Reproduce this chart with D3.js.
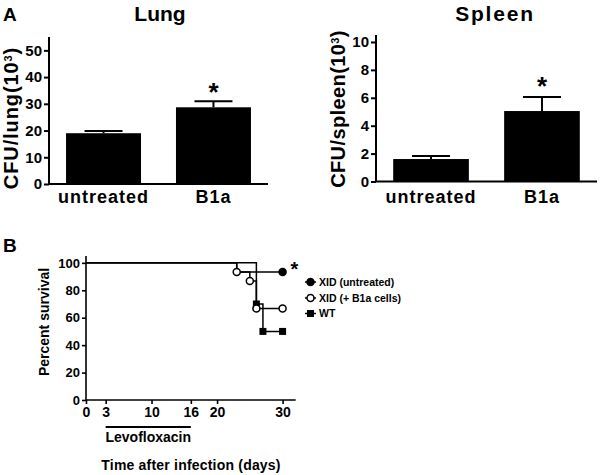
<!DOCTYPE html>
<meta charset="utf-8">
<style>
  body { margin: 0; padding: 0; background: white; }
  svg { background: white; font-family: "Liberation Sans", Arial, sans-serif; font-weight: bold; }
</style>
<script src="https://d3js.org/d3.v7.min.js"></script>
<svg id="vis" width="600" height="475"></svg>
<script>

// ---- data, panel A
var groups = ["untreated", "B1a"];
var lungMean = [19.0, 28.7];
var lungErr = [0.8, 2.3];
var spleenMean = [1.61, 5.05];
var spleenErr = [0.22, 1.0];
var lungTicks = [0, 10, 20, 30, 40, 50];
var spleenTicks = [0, 2, 4, 6, 8, 10];

// ---- data, panel B (Kaplan-Meier steps)
var seriesNames = ["XID (untreated)", "XID (+ B1a cells)", "WT"];
var untreatedDays = [0, 23, 30];
var untreatedSurv = [100, 93.3, 93.3];
var b1aDays = [0, 23, 25, 26, 30];
var b1aSurv = [100, 93.3, 86.7, 66.7, 66.7];
var wtDays = [0, 26, 27, 30];
var wtSurv = [100, 70, 50, 50];
var dayTicks = [0, 3, 10, 16, 20, 30];
var survTicks = [0, 20, 40, 60, 80, 100];
var treatStart = 3, treatEnd = 16;

var svg = d3.select("#vis");

svg.append("text").attr("x", 3).attr("y", 21).attr("font-size", 19).text("A");
svg.append("text").attr("x", 3).attr("y", 252).attr("font-size", 19).text("B");

function barPanel(opts) {
  var g = svg.append("g");
  var x = d3.scaleBand().domain(groups)
    .range([opts.left, opts.right]).paddingInner(0.318).paddingOuter(0.155);
  var y = d3.scaleLinear().domain([0, opts.ymax]).range([opts.bottom, opts.top]);

  g.selectAll("rect.bar").data(groups).enter().append("rect")
    .attr("x", d => x(d)).attr("width", x.bandwidth())
    .attr("y", (d, i) => y(opts.mean[i]))
    .attr("height", (d, i) => y(0) - y(opts.mean[i]))
    .attr("fill", "#000");

  // error bars (upper only)
  groups.forEach(function(d, i) {
    var cx = x(d) + x.bandwidth() / 2;
    var yt = y(opts.mean[i] + opts.err[i]);
    g.append("line").attr("x1", cx).attr("x2", cx)
      .attr("y1", y(opts.mean[i])).attr("y2", yt)
      .attr("stroke", "#000").attr("stroke-width", 2);
    g.append("line").attr("x1", cx - 19).attr("x2", cx + 19)
      .attr("y1", yt).attr("y2", yt)
      .attr("stroke", "#000").attr("stroke-width", 2);
  });

  var yAxis = g.append("g").attr("transform", "translate(" + opts.left + ",0)")
    .call(d3.axisLeft(y).tickValues(opts.ticks).tickSize(5).tickPadding(2));
  yAxis.select(".domain").attr("d", "M0," + y(0) + "V" + opts.top).attr("stroke-width", 2);
  yAxis.selectAll(".tick line").attr("stroke-width", 2);
  yAxis.selectAll("text").attr("font-size", 15).attr("font-family", null).attr("fill", "#000");

  g.append("line").attr("x1", opts.left - 1).attr("x2", opts.right)
    .attr("y1", y(0)).attr("y2", y(0)).attr("stroke", "#000").attr("stroke-width", 2);

  g.selectAll("text.xl").data(groups).enter().append("text")
    .attr("x", d => x(d) + x.bandwidth() / 2).attr("y", 203)
    .attr("text-anchor", "middle").attr("font-size", 18).attr("letter-spacing", 1)
    .text(d => d);

  // asterisk over B1a
  g.append("text").attr("x", x("B1a") + x.bandwidth() / 2).attr("y", opts.starY)
    .attr("text-anchor", "middle").attr("font-size", 26).text("*");

  g.append("text").attr("x", opts.titleX).attr("y", 21)
    .attr("text-anchor", "middle").attr("font-size", 21).attr("letter-spacing", opts.titleSpacing)
    .text(opts.title);

  var yl = g.append("text")
    .attr("transform", "translate(" + opts.labelX + "," + opts.labelY + ") rotate(-90)")
    .attr("text-anchor", "middle").attr("font-size", 20).attr("letter-spacing", opts.labelSpacing);
  yl.append("tspan").text(opts.label + "(10");
  yl.append("tspan").attr("font-size", 11).attr("dy", -6).text("3");
  yl.append("tspan").attr("dy", 6).text(")");
}

barPanel({ left: 49, right: 268, top: 37, bottom: 184, ymax: 55,
  mean: lungMean, err: lungErr, ticks: lungTicks, starY: 101,
  title: "Lung", titleX: 160, titleSpacing: 0,
  label: "CFU/lung", labelX: 18, labelY: 118, labelSpacing: 0.9 });

barPanel({ left: 376, right: 597, top: 35, bottom: 181.5, ymax: 10.5,
  mean: spleenMean, err: spleenErr, ticks: spleenTicks, starY: 95,
  title: "Spleen", titleX: 495, titleSpacing: 1.8,
  label: "CFU/spleen", labelX: 345, labelY: 109, labelSpacing: 0.4 });

// ---- panel B
var x = d3.scaleLinear().domain([0, 32]).range([86, 295.7]);
var y = d3.scaleLinear().domain([0, 105]).range([400, 256]);
var gb = svg.append("g");

var xAx = gb.append("g").attr("transform", "translate(0,400)")
  .call(d3.axisBottom(x).tickValues(dayTicks).tickSize(4).tickPadding(3));
var yAx = gb.append("g").attr("transform", "translate(86,0)")
  .call(d3.axisLeft(y).tickValues(survTicks).tickSize(4).tickPadding(2));
[xAx, yAx].forEach(function(a) {
  a.select(".domain").attr("stroke-width", 1.6);
  a.selectAll(".tick line").attr("stroke-width", 1.6);
  a.selectAll("text").attr("font-family", null).attr("fill", "#000");
});
xAx.select(".domain").attr("d", "M" + x(0) + ",0H" + x(32));
yAx.select(".domain").attr("d", "M0," + y(0) + "V" + y(105));
xAx.selectAll("text").attr("font-size", 14);
yAx.selectAll("text").attr("font-size", 13);

var line = d3.line().x(d => x(d[0])).y(d => y(d[1])).curve(d3.curveStepAfter);
function zip(a, b) { return a.map((d, i) => [d, b[i]]); }

var curves = [
  { pts: zip(untreatedDays, untreatedSurv), shape: "circle", open: false, marks: [2] },
  { pts: zip(b1aDays, b1aSurv), shape: "circle", open: true, marks: [1, 2, 3, 4] },
  { pts: zip(wtDays, wtSurv), shape: "square", open: false, marks: [1, 2, 3] }
];

curves.forEach(function(c) {
  gb.append("path").attr("d", line(c.pts)).attr("fill", "none")
    .attr("stroke", "#000").attr("stroke-width", 1.5);
});

function marker(g, shape, open, cx, cy) {
  if (shape === "circle") {
    g.append("circle").attr("cx", cx).attr("cy", cy).attr("r", 3.5)
      .attr("fill", open ? "#fff" : "#000").attr("stroke", "#000").attr("stroke-width", 1.5);
  } else {
    g.append("rect").attr("x", cx - 3.5).attr("y", cy - 3.5).attr("width", 7).attr("height", 7)
      .attr("fill", "#000");
  }
}

// draw filled/square markers first, open circles on top
[2, 0, 1].forEach(function(k) {
  var c = curves[k];
  c.marks.forEach(function(i) {
    marker(gb, c.shape, c.open, x(c.pts[i][0]), y(c.pts[i][1]));
  });
});

gb.append("text").attr("x", x(30) + 8).attr("y", y(93.3) + 4).attr("font-size", 20).text("*");

// legend
var legY = [282, 298, 313.5];
seriesNames.forEach(function(n, i) {
  var c = curves[i];
  gb.append("line").attr("x1", 305).attr("x2", 316).attr("y1", legY[i]).attr("y2", legY[i])
    .attr("stroke", "#000").attr("stroke-width", 1.5);
  marker(gb, c.shape, c.open, 310.5, legY[i]);
  gb.append("text").attr("x", 319).attr("y", legY[i] + 3.8).attr("font-size", 10.5).text(n);
});

// treatment period
gb.append("line").attr("x1", x(treatStart)).attr("x2", x(treatEnd)).attr("y1", 427).attr("y2", 427)
  .attr("stroke", "#000").attr("stroke-width", 2);
gb.append("text").attr("x", (x(treatStart) + x(treatEnd)) / 2).attr("y", 442)
  .attr("text-anchor", "middle").attr("font-size", 14).text("Levofloxacin");

gb.append("text").attr("x", 191).attr("y", 470).attr("text-anchor", "middle")
  .attr("font-size", 14).attr("letter-spacing", 0.2).text("Time after infection (days)");

gb.append("text").attr("transform", "translate(49,322) rotate(-90)")
  .attr("text-anchor", "middle").attr("font-size", 14).text("Percent survival");

</script>
